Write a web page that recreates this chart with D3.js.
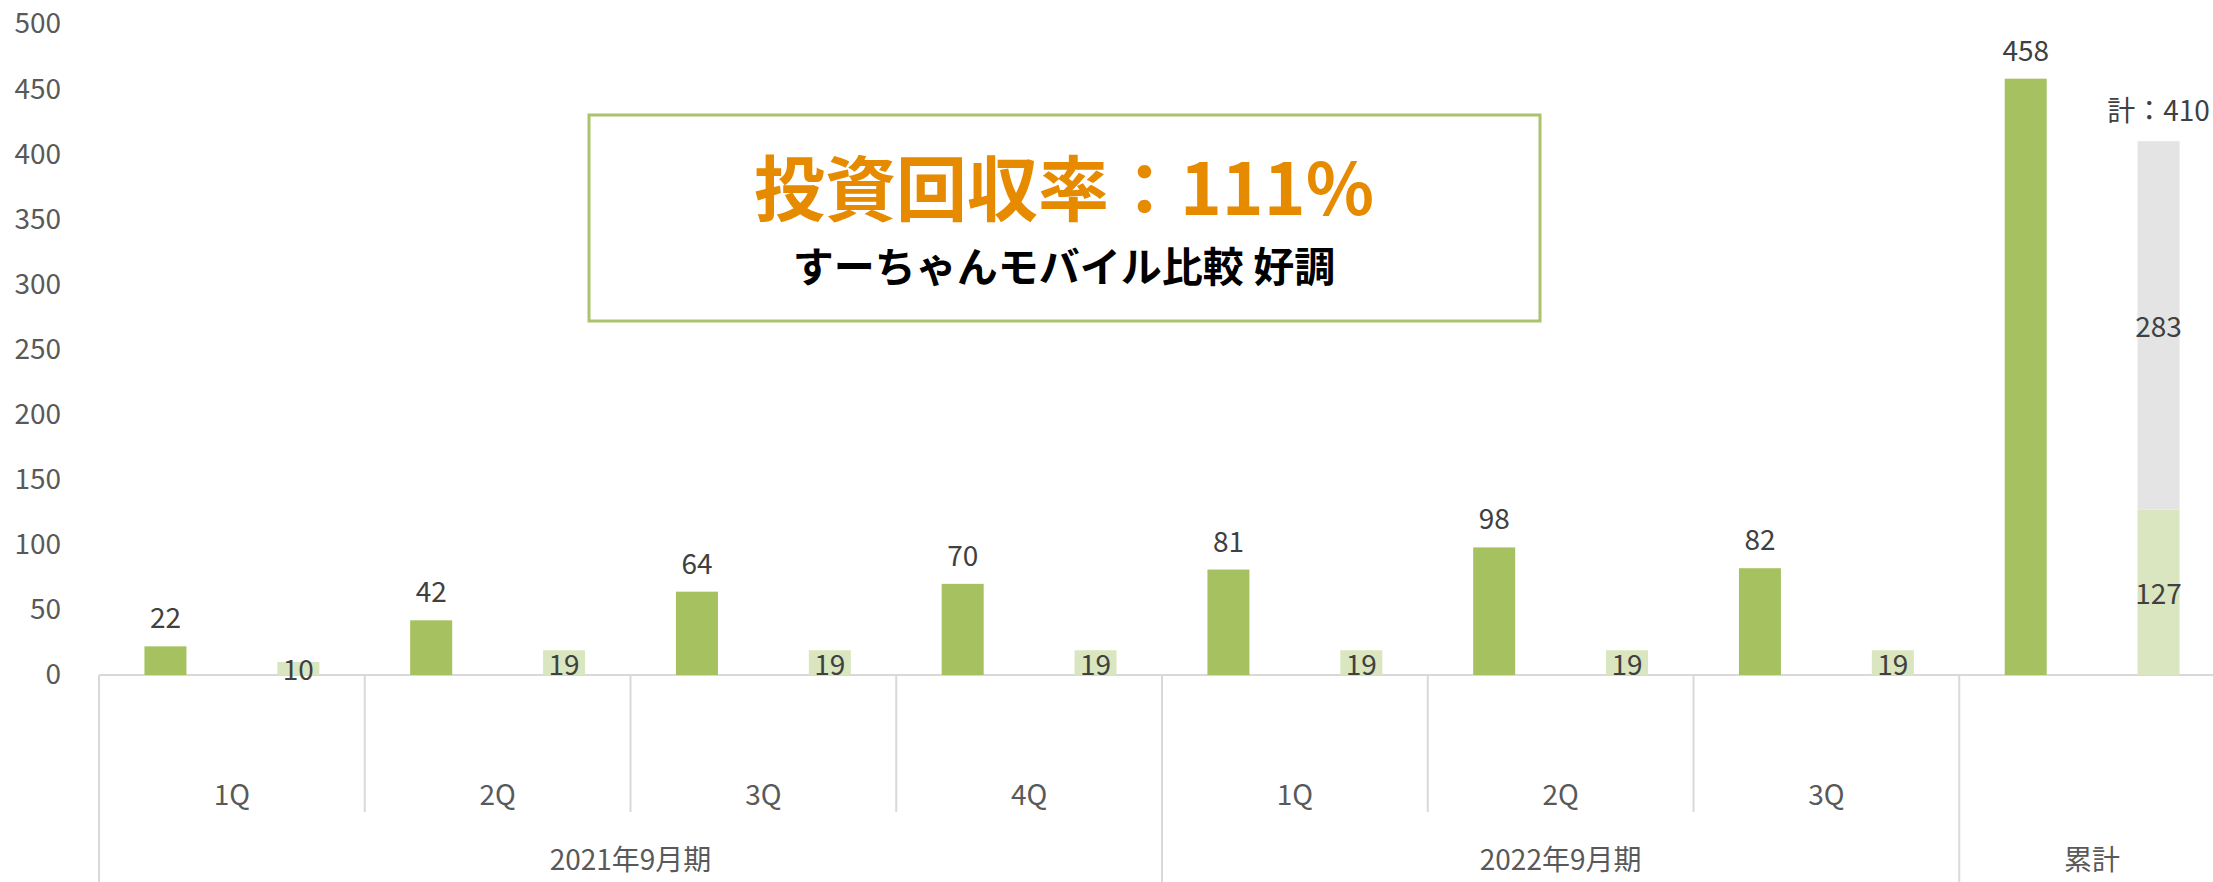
<!DOCTYPE html>
<html>
<head>
<meta charset="utf-8">
<script src="https://cdn.jsdelivr.net/npm/d3@7"></script>
<style>
  body { margin: 0; background: #fff; }
  svg { display: block; font-family: "Noto Sans CJK JP", "Noto Sans", sans-serif; }
</style>
</head>
<body>
<svg id="chart"></svg>
<script>
// quarters on the lower axis row, periods on the second row
const quarters = ['1Q', '2Q', '3Q', '4Q', '1Q', '2Q', '3Q', ''];
const periods = ['2021年9月期', '2022年9月期', '累計'];
const periodSpans = [4, 3, 1];

// bar values
const invested = [22, 42, 64, 70, 81, 98, 82, 458];
const recovered = [10, 19, 19, 19, 19, 19, 19, 127];
const remaining = [0, 0, 0, 0, 0, 0, 0, 283];
const totalLabel = '計：410';

const yTicks = [0, 50, 100, 150, 200, 250, 300, 350, 400, 450, 500];

const titleText = '投資回収率：111%';
const subtitleText = 'すーちゃんモバイル比較 好調';

const config = {
  width: 2213,
  height: 882,
  left: 99,
  right: 2225,
  top: 24,
  bottom: 675,
  barWidth: 42
};

const svg = d3.select('#chart')
  .attr('width', config.width)
  .attr('height', config.height);

const keys = quarters.map((q, i) => i);

const xScale = d3.scaleBand()
  .domain(keys)
  .range([config.left, config.right])
  .padding(0);

const subScale = d3.scaleBand()
  .domain(['invest', 'recover'])
  .range([0, xScale.bandwidth()]);

const yScale = d3.scaleLinear()
  .domain([0, 500])
  .range([config.bottom, config.top]);

// y axis labels only
const yAxis = d3.axisLeft(yScale)
  .tickValues(yTicks)
  .tickSize(0)
  .tickPadding(38);

const yAxisGroup = svg.append('g')
  .attr('transform', `translate(${config.left},0)`)
  .call(yAxis);
yAxisGroup.select('.domain').remove();
yAxisGroup.selectAll('text')
  .attr('fill', '#595959')
  .style('font-size', '28px')
  .style('font-family', '"Noto Sans CJK JP", sans-serif');

// category dividers
const periodStarts = [];
periodSpans.reduce((acc, s) => { periodStarts.push(acc); return acc + s; }, 0);

svg.selectAll('.divider')
  .data(keys)
  .join('line')
  .attr('class', 'divider')
  .attr('x1', d => xScale(d))
  .attr('x2', d => xScale(d))
  .attr('y1', config.bottom)
  .attr('y2', d => periodStarts.includes(d) ? config.height : 812)
  .attr('stroke', '#D9D9D9')
  .attr('stroke-width', 2);

// x axis line
svg.append('line')
  .attr('x1', config.left)
  .attr('x2', config.right)
  .attr('y1', config.bottom)
  .attr('y2', config.bottom)
  .attr('stroke', '#D9D9D9')
  .attr('stroke-width', 2);

const barX = (i, k) => xScale(i) + subScale(k) + (subScale.bandwidth() - config.barWidth) / 2;
const barCx = (i, k) => xScale(i) + subScale(k) + subScale.bandwidth() / 2;

// invested bars
svg.selectAll('.bar-invest')
  .data(invested)
  .join('rect')
  .attr('class', 'bar-invest')
  .attr('x', (d, i) => barX(i, 'invest'))
  .attr('y', d => yScale(d))
  .attr('width', config.barWidth)
  .attr('height', d => yScale(0) - yScale(d))
  .attr('fill', '#A5C160');

// recovered bars
svg.selectAll('.bar-recover')
  .data(recovered)
  .join('rect')
  .attr('class', 'bar-recover')
  .attr('x', (d, i) => barX(i, 'recover'))
  .attr('y', d => yScale(d))
  .attr('width', config.barWidth)
  .attr('height', d => yScale(0) - yScale(d))
  .attr('fill', '#D9E6BF');

// remaining (stacked on recovered)
svg.selectAll('.bar-remain')
  .data(remaining)
  .join('rect')
  .attr('class', 'bar-remain')
  .attr('x', (d, i) => barX(i, 'recover'))
  .attr('y', (d, i) => yScale(recovered[i] + d))
  .attr('width', config.barWidth)
  .attr('height', d => yScale(0) - yScale(d))
  .attr('fill', '#E4E4E4');

// labels
const labelStyle = sel => sel
  .attr('text-anchor', 'middle')
  .attr('dominant-baseline', 'central')
  .attr('fill', '#404040')
  .style('font-size', '28px');

svg.selectAll('.lbl-invest')
  .data(invested)
  .join('text')
  .attr('class', 'lbl-invest')
  .attr('x', (d, i) => barCx(i, 'invest'))
  .attr('y', d => yScale(d) - 30)
  .text(d => d)
  .call(labelStyle);

svg.selectAll('.lbl-recover')
  .data(recovered)
  .join('text')
  .attr('class', 'lbl-recover')
  .attr('x', (d, i) => barCx(i, 'recover'))
  .attr('y', d => yScale(d / 2))
  .text(d => d)
  .call(labelStyle);

svg.selectAll('.lbl-remain')
  .data(remaining.map((d, i) => ({ d, i })).filter(o => o.d > 0))
  .join('text')
  .attr('class', 'lbl-remain')
  .attr('x', o => barCx(o.i, 'recover'))
  .attr('y', o => yScale(recovered[o.i] + o.d / 2))
  .text(o => o.d)
  .call(labelStyle);

const last = quarters.length - 1;
svg.append('text')
  .attr('x', barCx(last, 'recover'))
  .attr('y', yScale(recovered[last] + remaining[last]) - 32)
  .text(totalLabel)
  .call(labelStyle);

// quarter labels
svg.selectAll('.q-label')
  .data(quarters)
  .join('text')
  .attr('class', 'q-label')
  .attr('x', (d, i) => xScale(i) + xScale.bandwidth() / 2)
  .attr('y', 793)
  .attr('text-anchor', 'middle')
  .attr('dominant-baseline', 'central')
  .attr('fill', '#595959')
  .style('font-size', '28px')
  .text(d => d);

// period labels
svg.selectAll('.p-label')
  .data(periods)
  .join('text')
  .attr('class', 'p-label')
  .attr('x', (d, i) => {
    const s = periodStarts[i];
    const e = s + periodSpans[i] - 1;
    return (xScale(s) + xScale(e) + xScale.bandwidth()) / 2;
  })
  .attr('y', 858)
  .attr('text-anchor', 'middle')
  .attr('dominant-baseline', 'central')
  .attr('fill', '#595959')
  .style('font-size', '28px')
  .text(d => d);

// annotation box
svg.append('rect')
  .attr('x', 589)
  .attr('y', 115)
  .attr('width', 951)
  .attr('height', 206)
  .attr('fill', '#fff')
  .attr('stroke', '#A9C46C')
  .attr('stroke-width', 3);

svg.append('text')
  .attr('x', 1064)
  .attr('y', 184)
  .attr('text-anchor', 'middle')
  .attr('dominant-baseline', 'central')
  .attr('fill', '#E68A00')
  .style('font-size', '71px')
  .style('font-weight', 700)
  .text(titleText);

svg.append('text')
  .attr('x', 1064)
  .attr('y', 264)
  .attr('text-anchor', 'middle')
  .attr('dominant-baseline', 'central')
  .attr('fill', '#000')
  .style('font-size', '41px')
  .style('font-weight', 700)
  .text(subtitleText);
</script>
</body>
</html>
